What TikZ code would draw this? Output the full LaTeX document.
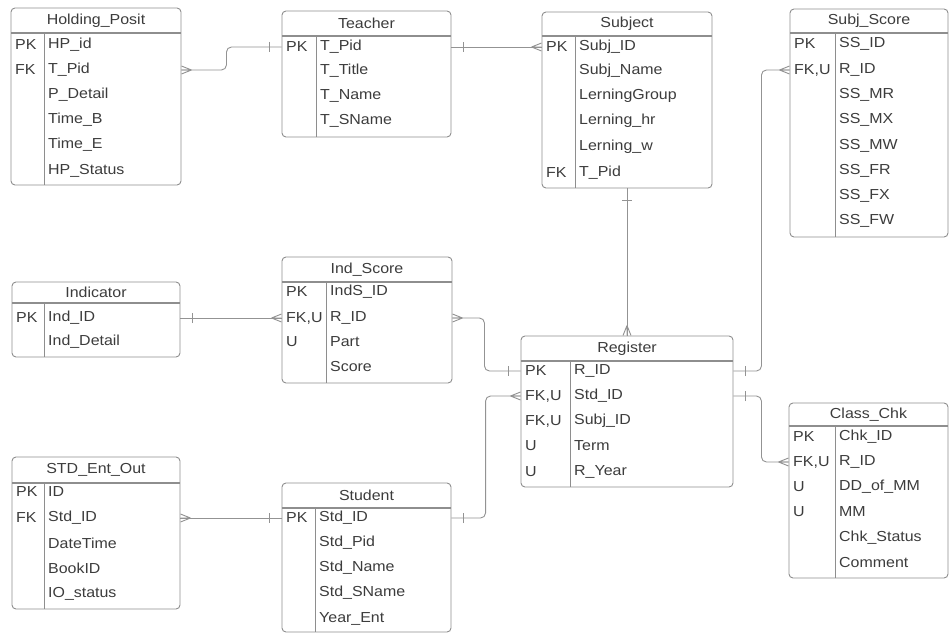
\documentclass[tikz,border=0pt]{standalone}
\usepackage{fontspec}
\setmainfont{Liberation Sans}[FakeStretch=1.1]
\usetikzlibrary{fit}
\definecolor{txtc}{HTML}{3C3C3C}
\definecolor{boxc}{HTML}{8E8E8E}
\definecolor{linec}{HTML}{939393}
\tikzset{
  tbox/.style={draw=boxc, line width=0.9pt, rounded corners=4pt, inner sep=0pt},
  hline/.style={draw=boxc, line width=1.6pt},
  vline/.style={draw=boxc, line width=0.9pt},
  ttitle/.style={text=txtc, font=\fontsize{14.5}{16}\selectfont, inner sep=0pt},
  keytxt/.style={text=txtc, font=\fontsize{14.5}{16}\selectfont, anchor=west, inner sep=1pt},
  fldtxt/.style={text=txtc, font=\fontsize{14.5}{16}\selectfont, anchor=west, inner sep=1pt},
  conn/.style={draw=linec, line width=0.9pt, rounded corners=5pt},
  crow/.pic={\draw[conn] (-10,0) -- (0,-4) (-10,0) -- (0,0) (-10,0) -- (0,4);},
  onebar/.pic={\draw[conn] (-12,-5) -- (-12,5);}
}
\newcommand{\ertable}[9]{%
  \node[tbox, fit={(#2,#4)(#3,#6)}] (#1) {};
  \node[ttitle] (#1-t) at ({(#2+#3)/2},{(#4+#5)/2}) {#8};
  \draw[hline] (#2,#5) -- (#3,#5);
  \draw[vline] (#7,#5) -- (#7,#6);
  \foreach \k/\f/\yy [count=\i] in {#9} {
    \node[keytxt] (#1-k\i) at (#2+3,\yy) {\k};
    \node[fldtxt] (#1-f\i) at (#7+3,\yy) {\f};
  }
}
\begin{document}
\begin{tikzpicture}[x=1pt,y=-1pt]
\useasboundingbox[fill=white] (0,0) rectangle (950,634);

\ertable{hp}{11}{181}{8}{33}{185}{44}{Holding\_Posit}{PK/HP\_id/45, FK/T\_Pid/70, {}/P\_Detail/95, {}/Time\_B/120, {}/Time\_E/145, {}/HP\_Status/171}
\ertable{tc}{282}{451}{11}{36}{137}{316}{Teacher}{PK/T\_Pid/47, {}/T\_Title/71, {}/T\_Name/96, {}/T\_SName/121}
\ertable{sb}{542}{712}{12}{36}{188}{575}{Subject}{PK/Subj\_ID/47, {}/Subj\_Name/71, {}/LerningGroup/96, {}/Lerning\_hr/121, {}/Lerning\_w/147, FK/T\_Pid/173}
\ertable{ss}{790}{948}{9}{33}{237}{835}{Subj\_Score}{PK/SS\_ID/44, {FK,U}/R\_ID/70, {}/SS\_MR/95, {}/SS\_MX/120, {}/SS\_MW/146, {}/SS\_FR/171, {}/SS\_FX/196, {}/SS\_FW/221}
\ertable{in}{12}{180}{282}{303}{357}{44}{Indicator}{PK/Ind\_ID/318, {}/Ind\_Detail/342}
\ertable{is}{282}{452}{257}{282}{383}{326}{Ind\_Score}{PK/IndS\_ID/292, {FK,U}/R\_ID/318, U/Part/342, {}/Score/367}
\ertable{rg}{521}{733}{336}{361}{487}{570}{Register}{PK/R\_ID/371, {FK,U}/Std\_ID/396, {FK,U}/Subj\_ID/421, U/Term/446, U/R\_Year/472}
\ertable{cc}{789}{948}{403}{426}{578}{835}{Class\_Chk}{PK/Chk\_ID/437, {FK,U}/R\_ID/462, U/DD\_of\_MM/487, U/MM/512, {}/Chk\_Status/538, {}/Comment/563}
\ertable{se}{12}{180}{457}{483}{609}{44}{STD\_Ent\_Out}{PK/ID/492, FK/Std\_ID/518, {}/DateTime/543, {}/BookID/568, {}/IO\_status/594}
\ertable{st}{282}{451}{483}{508}{632}{315}{Student}{PK/Std\_ID/518, {}/Std\_Pid/543, {}/Std\_Name/568, {}/Std\_SName/593, {}/Year\_Ent/619}

% connectors
\draw[conn] (hp.east|-hp-f2) -- ++(45,0) |- (tc.west|-tc-f1);
\pic[rotate=180] at (hp.east|-hp-f2) {crow};
\pic at (tc.west|-tc-f1) {onebar};

\draw[conn] (tc.east|-tc-f1) -- (sb.west|-sb-f1);
\pic[rotate=180] at (tc.east|-tc-f1) {onebar};
\pic at (sb.west|-sb-f1) {crow};

\draw[conn] (sb.south) -- (rg.north);
\pic[rotate=90] at (sb.south) {onebar};
\pic[rotate=-90] at (rg.north) {crow};

\draw[conn] (in.east|-in-f1) -- (is.west|-is-f2);
\pic[rotate=180] at (in.east|-in-f1) {onebar};
\pic at (is.west|-is-f2) {crow};

\draw[conn] (is.east|-is-f2) -- ++(32,0) |- (rg.west|-rg-f1);
\pic[rotate=180] at (is.east|-is-f2) {crow};
\pic at (rg.west|-rg-f1) {onebar};

\draw[conn] (rg.west|-rg-f2) -- ++(-35,0) |- (st.east|-st-f1);
\pic at (rg.west|-rg-f2) {crow};
\pic[rotate=180] at (st.east|-st-f1) {onebar};

\draw[conn] (se.east|-se-f2) -- (st.west|-st-f1);
\pic[rotate=180] at (se.east|-se-f2) {crow};
\pic at (st.west|-st-f1) {onebar};

\draw[conn] (rg.east|-rg-f1) -- ++(28,0) |- (ss.west|-ss-f2);
\pic[rotate=180] at (rg.east|-rg-f1) {onebar};
\pic at (ss.west|-ss-f2) {crow};

\draw[conn] (rg.east|-rg-f2) -- ++(28,0) |- (cc.west|-cc-f2);
\pic[rotate=180] at (rg.east|-rg-f2) {onebar};
\pic at (cc.west|-cc-f2) {crow};
\end{tikzpicture}
\end{document}
